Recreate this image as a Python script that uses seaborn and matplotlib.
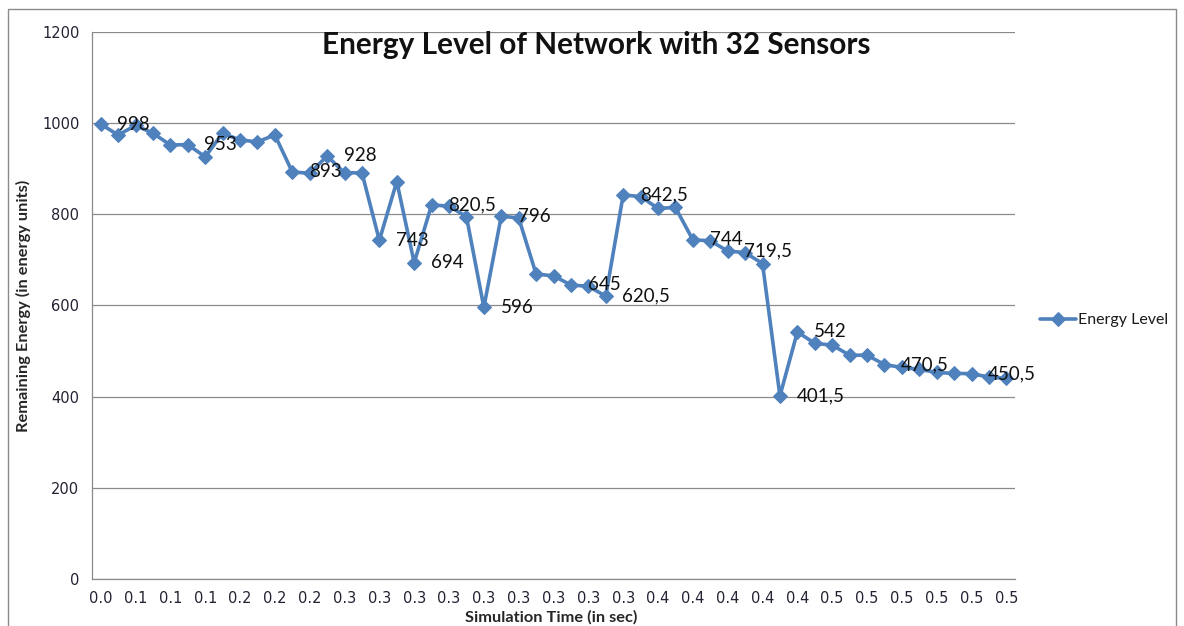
import numpy as np
import pandas as pd
import matplotlib
matplotlib.use("Agg")
from matplotlib import pyplot as plt
from matplotlib.patches import Rectangle
import seaborn as sns

# ---- chart data ----
time_labels = ["0.0", "0.1", "0.1", "0.1", "0.2", "0.2", "0.2",
               "0.3", "0.3", "0.3", "0.3", "0.3", "0.3", "0.3", "0.3", "0.3",
               "0.4", "0.4", "0.4", "0.4", "0.4",
               "0.5", "0.5", "0.5", "0.5", "0.5", "0.5"]
energy = [998, 974, 995, 978, 952, 953, 926, 978, 963, 959,
          974, 893, 890, 928, 891, 891, 743, 872, 694, 820.5,
          818, 795, 596, 796, 792, 669, 665, 645, 642, 620.5,
          842.5, 839, 813, 815, 744, 742, 719.5, 716, 692, 401.5,
          542, 517, 513, 491, 491, 470.5, 464, 460, 453, 451,
          450.5, 443, 440]
# points that carry a data label in the original
labelled = [0, 5, 11, 13, 16, 18, 19, 22, 23, 27, 29, 30, 34, 36, 39, 40, 45, 50]

BLUE = "#4f81bd"
GRID = "#8a8a8a"

sns.set_theme(style="white")
plt.rcParams['font.family'] = ['Lato', 'DejaVu Sans']
plt.rc('text', color='#1a1a1a')

df = pd.DataFrame({"step": np.arange(len(energy)), "energy": energy})

fig, ax = plt.subplots(figsize=(11.84, 6.26), dpi=100)
fig.subplots_adjust(left=0.0777, right=0.8573, bottom=0.0751, top=0.9489)

sns.lineplot(data=df, x="step", y="energy", marker="D", color=BLUE,
             linewidth=2.6, markersize=7.5, markeredgecolor=BLUE,
             label="Energy Level", ax=ax, zorder=3)

# data labels, placed right of the point like Excel does
for i in labelled:
    txt = f"{energy[i]:g}".replace(".", ",")
    ax.annotate(txt, (i, energy[i]), xytext=(12, 0), textcoords="offset points",
                ha="left", va="center", fontsize=13.5, color="#111111", zorder=5)

# y axis
ax.set_ylim(0, 1200)
ax.set_yticks(range(0, 1201, 200))
ax.yaxis.grid(True, color=GRID, linewidth=0.9)
ax.set_axisbelow(True)

# x axis: category style, ticks between points, label every other point
ax.set_xlim(-0.5, len(energy) - 0.5)
ax.set_xticks(np.arange(0, len(energy), 2))
ax.set_xticklabels(time_labels)
ax.set_xticks(np.arange(-0.5, len(energy), 1), minor=True)
ax.tick_params(axis="x", which="major", length=0, pad=9)
ax.tick_params(axis="x", which="minor", length=5, width=0.8, color=GRID, direction="out")
ax.tick_params(axis="y", length=5, width=0.8, color=GRID, direction="out", pad=4)
for lab in ax.get_xticklabels() + ax.get_yticklabels():
    lab.set_fontfamily("DejaVu Sans")
    lab.set_fontsize(10.5)
    lab.set_color("#222233")

for s in ["top", "right"]:
    ax.spines[s].set_visible(False)
for s in ["left", "bottom"]:
    ax.spines[s].set_color(GRID)
    ax.spines[s].set_linewidth(0.9)

ax.set_xlabel("Simulation Time (in sec)", fontsize=11.8, fontweight="bold")
ax.set_ylabel("Remaining Energy (in energy units)", fontsize=11.8, fontweight="bold")
ax.xaxis.set_label_coords(0.497, -0.056)
ax.yaxis.set_label_coords(-0.066, 0.5)

ax.text(0.546, 0.976, "Energy Level of Network with 32 Sensors", transform=ax.transAxes,
        ha="center", va="center", fontsize=21.4, fontweight="bold", color="#111111")

leg = ax.legend(loc="center left", bbox_to_anchor=(1026 / 1184, 1 - 320 / 626),
                bbox_transform=fig.transFigure, frameon=False, fontsize=11.5,
                handlelength=2.2, handletextpad=0.15)

# chart area outline
fig.add_artist(Rectangle((8 / 1184, -0.05), (1176 - 8) / 1184, (626 - 9) / 626 + 0.05,
                         transform=fig.transFigure, fill=False,
                         edgecolor="#8a8a8a", linewidth=1))

plt.savefig("out.png", dpi=100)
